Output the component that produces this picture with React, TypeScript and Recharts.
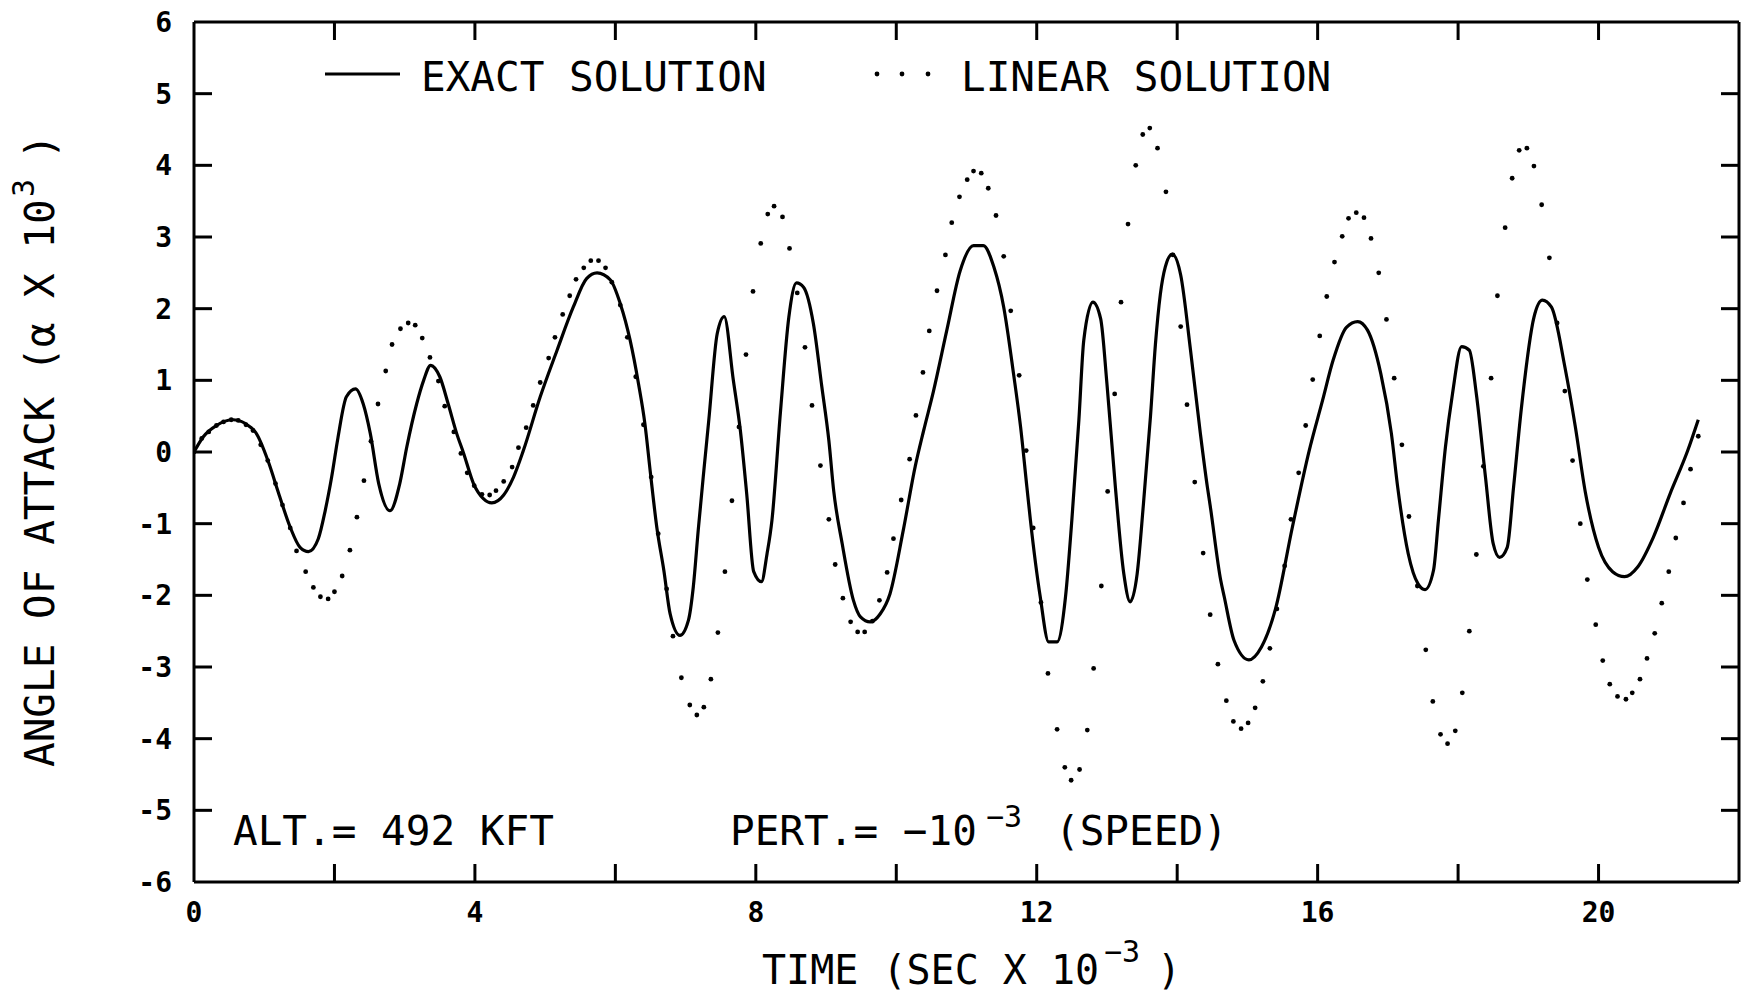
import React from 'react';
import { LineChart, Line, XAxis, YAxis } from 'recharts';

// exact solution (time in sec x 10^-3, alpha x 10^3)
const exactT = [
  0.0, 0.13, 0.32, 0.56, 0.8, 0.88, 1.06, 1.2, 1.37, 1.51, 1.63, 1.77, 1.87, 1.96, 2.05, 2.17, 2.3, 2.41,
  2.51, 2.63, 2.79, 2.93, 3.03, 3.17, 3.27, 3.37, 3.5, 3.62, 3.74, 3.84, 3.98, 4.12, 4.24, 4.41, 4.55, 4.69,
  4.93, 5.17, 5.4, 5.59, 5.74, 5.93, 6.07, 6.21, 6.33, 6.42, 6.5, 6.59, 6.69, 6.78, 6.92, 7.04, 7.11, 7.18,
  7.26, 7.33, 7.45, 7.55, 7.68, 7.78, 7.87, 7.97, 8.08, 8.16, 8.23, 8.35, 8.47, 8.58, 8.68, 8.82, 8.94, 9.04,
  9.11, 9.23, 9.39, 9.49, 9.63, 9.77, 9.91, 10.1, 10.27, 10.39, 10.53, 10.72, 10.91, 11.1, 11.24, 11.39, 11.53,
  11.67, 11.77, 11.86, 11.91, 12.05, 12.17, 12.29, 12.41, 12.5, 12.6, 12.67, 12.8, 12.91, 13.0, 13.12, 13.24,
  13.33, 13.43, 13.52, 13.62, 13.69, 13.76, 13.83, 13.93, 14.05, 14.19, 14.33, 14.43, 14.47, 14.62, 14.67,
  14.81, 15.02, 15.2, 15.4, 15.64, 15.88, 16.07, 16.22, 16.41, 16.57, 16.71, 16.9, 17.05, 17.14, 17.29, 17.43,
  17.53, 17.65, 17.72, 17.82, 17.92, 18.05, 18.16, 18.26, 18.39, 18.5, 18.59, 18.7, 18.79, 18.9, 19.08, 19.2,
  19.33, 19.52, 19.67, 19.81, 20.0, 20.2, 20.37, 20.56, 20.78, 21.02, 21.27, 21.42,
];
const exactV = [
  0.0, 0.21, 0.37, 0.45, 0.35, 0.27, -0.14, -0.56, -1.05, -1.33, -1.39, -1.21, -0.81, -0.35, 0.2, 0.77, 0.88, 0.67,
  0.26, -0.44, -0.82, -0.44, 0.07, 0.67, 1.0, 1.21, 1.05, 0.67, 0.26, -0.02, -0.44, -0.65, -0.71, -0.6, -0.35, 0.02,
  0.77, 1.42, 2.02, 2.42, 2.5, 2.4, 2.07, 1.56, 0.95, 0.4, -0.3, -1.05, -1.65, -2.26, -2.56, -2.35, -1.88, -1.09,
  -0.26, 0.44, 1.65, 1.89, 1.0, 0.3, -0.58, -1.67, -1.81, -1.42, -0.95, 0.55, 1.88, 2.36, 2.3, 1.79, 0.91, 0.16,
  -0.55, -1.28, -2.07, -2.3, -2.37, -2.26, -1.98, -1.09, -0.2, 0.3, 0.85, 1.7, 2.53, 2.88, 2.88, 2.58, 2.02,
  1.09, 0.35, -0.49, -0.95, -2.02, -2.65, -2.65, -2.02, -0.95, 0.44, 1.56, 2.09, 1.86, 0.95, -0.49, -1.7,
  -2.09, -1.7, -0.72, 0.5, 1.5, 2.2, 2.58, 2.76, 2.47, 1.42, 0.26, -0.49, -0.75, -1.79, -2.02,
  -2.63, -2.9, -2.72, -2.19, -1.05, 0.02, 0.72, 1.28, 1.74, 1.82, 1.7, 1.09, 0.26, -0.49, -1.42, -1.84,
  -1.92, -1.65, -0.95, 0.07, 0.81, 1.47, 1.42, 0.81, -0.35, -1.28, -1.47, -1.33, -0.49, 0.6, 1.88, 2.12,
  2.02, 1.19, 0.35, -0.55, -1.33, -1.67, -1.74, -1.6, -1.19, -0.58, 0.02, 0.45,
];

// linear solution (plotted as dots)
const linearT = [
  0.0, 0.11, 0.21, 0.32, 0.42, 0.53, 0.63, 0.74, 0.84, 0.95, 1.05, 1.16, 1.26, 1.37, 1.46, 1.59, 1.7, 1.8, 1.91,
  2.0, 2.11, 2.22, 2.32, 2.42, 2.52, 2.62, 2.73, 2.82, 2.94, 3.05, 3.15, 3.25, 3.36, 3.48, 3.57, 3.7, 3.8, 3.89,
  3.99, 4.1, 4.21, 4.3, 4.41, 4.53, 4.62, 4.73, 4.83, 4.93, 5.05, 5.14, 5.25, 5.35, 5.44, 5.55, 5.65, 5.76,
  5.86, 5.95, 6.07, 6.17, 6.29, 6.4, 6.51, 6.61, 6.73, 6.82, 6.94, 7.06, 7.16, 7.26, 7.36, 7.46, 7.56, 7.66,
  7.76, 7.86, 7.96, 8.07, 8.17, 8.26, 8.38, 8.48, 8.59, 8.7, 8.8, 8.92, 9.04, 9.13, 9.24, 9.35, 9.45, 9.55,
  9.66, 9.76, 9.87, 9.96, 10.07, 10.19, 10.28, 10.38, 10.47, 10.58, 10.7, 10.79, 10.9, 11.01, 11.1, 11.21,
  11.31, 11.42, 11.53, 11.63, 11.75, 11.85, 11.95, 12.06, 12.16, 12.29, 12.4, 12.49, 12.61, 12.72, 12.81,
  12.92, 13.01, 13.11, 13.2, 13.3, 13.41, 13.51, 13.61, 13.72, 13.84, 13.94, 14.05, 14.14, 14.25, 14.37,
  14.47, 14.58, 14.7, 14.8, 14.91, 15.01, 15.11, 15.22, 15.32, 15.42, 15.53, 15.62, 15.73, 15.83, 15.93,
  16.03, 16.13, 16.24, 16.35, 16.44, 16.55, 16.66, 16.76, 16.87, 16.98, 17.09, 17.2, 17.3, 17.42, 17.54,
  17.64, 17.75, 17.85, 17.96, 18.06, 18.16, 18.26, 18.36, 18.47, 18.56, 18.67, 18.77, 18.87, 18.98, 19.08,
  19.19, 19.3, 19.41, 19.52, 19.63, 19.74, 19.84, 19.96, 20.06, 20.16, 20.27, 20.39, 20.48, 20.59, 20.69,
  20.8, 20.9, 21.0, 21.1, 21.21, 21.31, 21.42,
];
const linearV = [
  0.0, 0.19, 0.28, 0.37, 0.42, 0.45, 0.44, 0.38, 0.3, 0.1, -0.12, -0.44, -0.74, -1.06, -1.38, -1.67, -1.89, -2.02, -2.05,
  -1.95, -1.73, -1.37, -0.91, -0.4, 0.15, 0.67, 1.13, 1.5, 1.72, 1.8, 1.77, 1.59, 1.32, 0.99, 0.64, 0.28, -0.02, -0.29,
  -0.47, -0.59, -0.6, -0.54, -0.41, -0.21, 0.06, 0.34, 0.65, 0.97, 1.31, 1.6, 1.92, 2.18, 2.41, 2.57, 2.67, 2.67,
  2.57, 2.37, 2.05, 1.6, 1.05, 0.38, -0.35, -1.14, -1.91, -2.57, -3.15, -3.53, -3.67, -3.56, -3.17, -2.52, -1.67, -0.68,
  0.35, 1.36, 2.24, 2.91, 3.32, 3.43, 3.28, 2.84, 2.22, 1.46, 0.65, -0.19, -0.94, -1.57, -2.04, -2.37, -2.51, -2.51,
  -2.36, -2.07, -1.68, -1.21, -0.67, -0.1, 0.51, 1.11, 1.69, 2.25, 2.75, 3.2, 3.56, 3.8, 3.92, 3.89,
  3.68, 3.3, 2.73, 1.97, 1.07, 0.02, -1.06, -2.1, -3.09, -3.87, -4.4, -4.58, -4.43, -3.88, -3.02,
  -1.87, -0.55, 0.81, 2.09, 3.18, 4.0, 4.43, 4.52, 4.24, 3.63, 2.75, 1.75, 0.66, -0.42, -1.41,
  -2.27, -2.96, -3.47, -3.76, -3.86, -3.78, -3.57, -3.2, -2.74, -2.19, -1.59, -0.94, -0.29, 0.37, 1.01,
  1.62, 2.17, 2.65, 3.01, 3.26, 3.34, 3.27, 2.98, 2.5, 1.85, 1.03, 0.1, -0.9, -1.87, -2.76,
  -3.48, -3.94, -4.07, -3.89, -3.36, -2.5, -1.43, -0.2, 1.03, 2.18, 3.13, 3.82, 4.21, 4.24, 3.99,
  3.45, 2.71, 1.8, 0.85, -0.12, -1.0, -1.78, -2.41, -2.91, -3.24, -3.41, -3.45, -3.36, -3.17, -2.88,
  -2.53, -2.11, -1.67, -1.2, -0.71, -0.24, 0.22,
];

const xTicks = [0, 2, 4, 6, 8, 10, 12, 14, 16, 18, 20, 22];
const xLabels = [0, 4, 8, 12, 16, 20];
const yTicks = [-6, -5, -4, -3, -2, -1, 0, 1, 2, 3, 4, 5, 6];

const exactData = exactT.map((t, i) => ({ t, v: exactV[i] }));
const linearData = linearT.map((t, i) => ({ t, v: linearV[i] }));

const W = 1744;
const H = 995;
const FONT = '"DejaVu Sans Mono", monospace';
const TICK = 18;
const INK = '#000';

function BottomTick({ x, y, payload }: any) {
  const v = payload.value;
  const edge = v === 0 || v === 22;
  return (
    <g>
      {!edge && <line x1={x} y1={y} x2={x} y2={y - TICK} stroke={INK} strokeWidth={3} />}
      {xLabels.includes(v) && (
        <text x={x} y={y + 40} textAnchor="middle" fontFamily={FONT} fontSize={28} fontWeight={600} fill={INK}>
          {v}
        </text>
      )}
    </g>
  );
}

function TopTick({ x, y, payload }: any) {
  const v = payload.value;
  if (v === 0 || v === 22) return <g />;
  return <line x1={x} y1={y} x2={x} y2={y + TICK} stroke={INK} strokeWidth={3} />;
}

function LeftTick({ x, y, payload }: any) {
  const v = payload.value;
  const edge = v === 6 || v === -6;
  return (
    <g>
      {!edge && <line x1={x} y1={y} x2={x + TICK} y2={y} stroke={INK} strokeWidth={3} />}
      <text x={x - 22} y={y + 10} textAnchor="end" fontFamily={FONT} fontSize={28} fontWeight={600} fill={INK}>
        {v < 0 ? `-${-v}` : v}
      </text>
    </g>
  );
}

function RightTick({ x, y, payload }: any) {
  const v = payload.value;
  if (v === 6 || v === -6) return <g />;
  return <line x1={x} y1={y} x2={x - TICK} y2={y} stroke={INK} strokeWidth={3} />;
}

const renderDot = (p: any) => <circle key={`lin-${p.index}`} cx={p.cx} cy={p.cy} r={2.4} fill={INK} />;

function Annotations() {
  return (
    <svg width={W} height={H} style={{ position: 'absolute', left: 0, top: 0, pointerEvents: 'none' }}>
      <g fontFamily={FONT} fill={INK}>
        {/* legend */}
        <line x1={325} y1={74} x2={400} y2={74} stroke={INK} strokeWidth={3} />
        <text x={421} y={91} fontSize={41}>EXACT SOLUTION</text>
        <circle cx={877} cy={74} r={2.4} />
        <circle cx={902} cy={74} r={2.4} />
        <circle cx={928} cy={74} r={2.4} />
        <text x={961} y={91} fontSize={41}>LINEAR SOLUTION</text>

        {/* case notes */}
        <text x={233} y={845} fontSize={41}>ALT.= 492 KFT</text>
        <text x={730} y={845} fontSize={41}>
          PERT.= −10
          <tspan x={986} dy={-18} fontSize={30}>−3</tspan>
          <tspan x={1055} dy={18} fontSize={41}>(SPEED)</tspan>
        </text>

        {/* axis titles */}
        <text x={762} y={984} fontSize={40}>
          TIME (SEC X 10
          <tspan x={1104} dy={-22} fontSize={30}>−3</tspan>
          <tspan x={1157} dy={22} fontSize={40}>)</tspan>
        </text>
        <text transform="translate(54,767) rotate(-90)" x={0} y={0} fontSize={41}>
          ANGLE OF ATTACK (α X 10
          <tspan x={570} dy={-20} fontSize={30}>3</tspan>
          <tspan x={608} dy={20} fontSize={41}>)</tspan>
        </text>
      </g>
    </svg>
  );
}

export default function App() {
  return (
    <div style={{ position: 'absolute', left: 0, top: 0, width: W, height: H, background: '#fff' }}>
      <LineChart width={W} height={H} margin={{ top: 20, right: 0, bottom: 53, left: 0 }}>
        <XAxis
          xAxisId="b"
          type="number"
          dataKey="t"
          domain={[0, 22]}
          ticks={xTicks}
          interval={0}
          height={60}
          tickSize={0}
          tickMargin={0}
          tickLine={false}
          axisLine={{ stroke: INK, strokeWidth: 3 }}
          tick={<BottomTick />}
          allowDataOverflow
        />
        <XAxis
          xAxisId="top"
          orientation="top"
          type="number"
          dataKey="t"
          domain={[0, 22]}
          ticks={xTicks}
          interval={0}
          height={2}
          tickSize={0}
          tickMargin={0}
          tickLine={false}
          axisLine={{ stroke: INK, strokeWidth: 3 }}
          tick={<TopTick />}
          allowDataOverflow
        />
        <YAxis
          yAxisId="l"
          type="number"
          domain={[-6, 6]}
          ticks={yTicks}
          interval={0}
          width={194}
          tickSize={0}
          tickMargin={0}
          tickLine={false}
          axisLine={{ stroke: INK, strokeWidth: 3 }}
          tick={<LeftTick />}
          allowDataOverflow
        />
        <YAxis
          yAxisId="r"
          orientation="right"
          type="number"
          domain={[-6, 6]}
          ticks={yTicks}
          interval={0}
          width={5}
          tickSize={0}
          tickMargin={0}
          tickLine={false}
          axisLine={{ stroke: INK, strokeWidth: 3 }}
          tick={<RightTick />}
          allowDataOverflow
        />
        <Line
          xAxisId="b"
          yAxisId="l"
          data={exactData}
          dataKey="v"
          type="monotoneX"
          stroke={INK}
          strokeWidth={3.2}
          dot={false}
          activeDot={false}
          isAnimationActive={false}
        />
        <Line
          xAxisId="b"
          yAxisId="l"
          data={linearData}
          dataKey="v"
          type="linear"
          stroke="none"
          dot={renderDot}
          activeDot={false}
          isAnimationActive={false}
        />
      </LineChart>
      <Annotations />
    </div>
  );
}
